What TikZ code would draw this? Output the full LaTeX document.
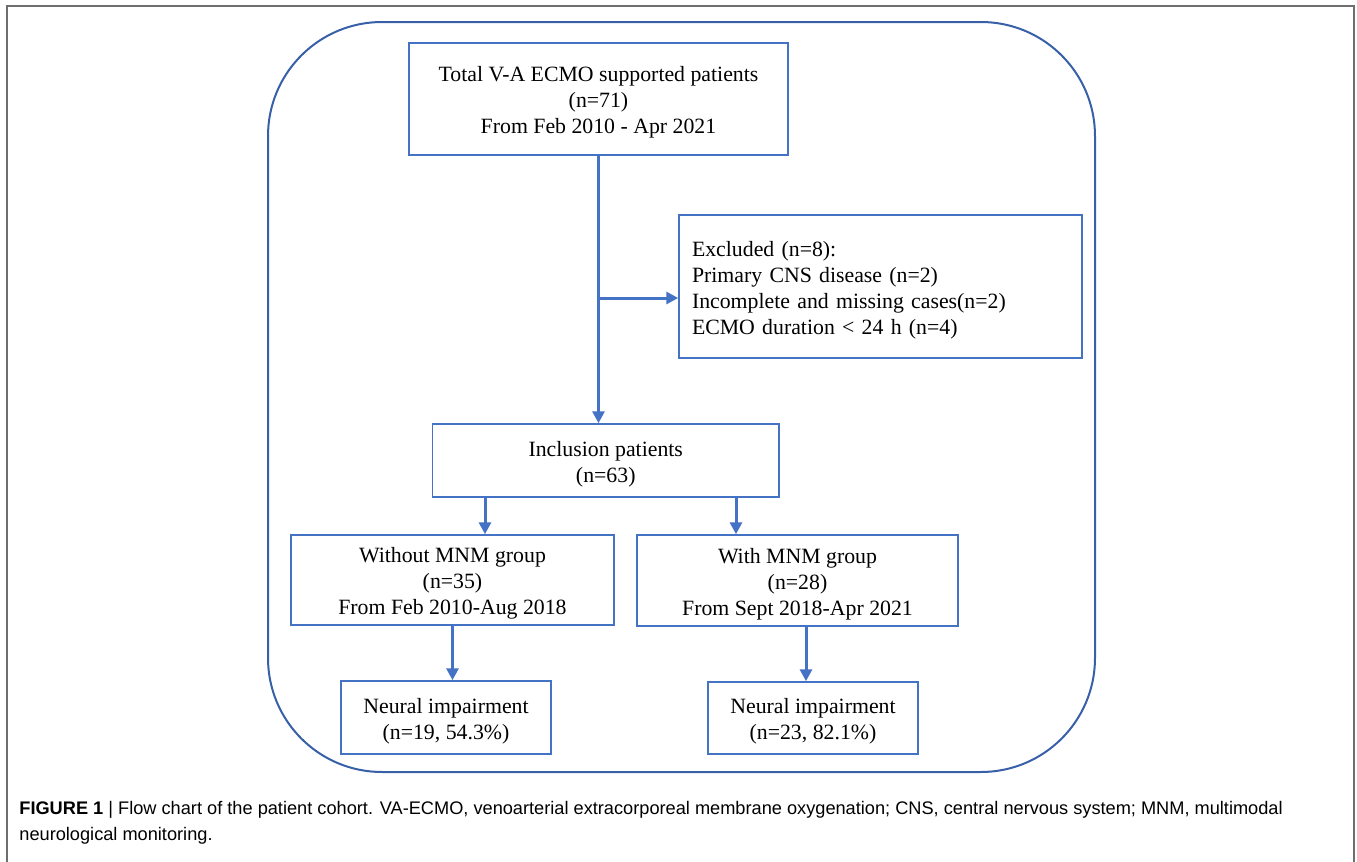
\documentclass[tikz,border=0pt]{standalone}
\usepackage{fontspec}
\setmainfont{Liberation Serif}
\newfontfamily\capfont{Liberation Sans}
\usetikzlibrary{arrows.meta,positioning}
\definecolor{fcblue}{RGB}{68,114,196}
\definecolor{fcframe}{RGB}{55,96,168}
\definecolor{fcgray}{RGB}{110,110,110}
\newcommand{\toplift}{\rule{0pt}{11pt}}

\begin{document}
\begin{tikzpicture}[x=0.5pt,y=-0.5pt,>={Triangle[length=6pt,width=6pt]},
    font=\fontsize{10.9}{13}\selectfont,
    box/.style={draw=fcblue,line width=0.75pt,align=center,inner sep=0pt},
    flow/.style={->,draw=fcblue,fill=fcblue,line width=1.5pt}]
  \useasboundingbox (0,0) rectangle (1357,862);
  % page frame and rounded panel
  \draw[fcgray,line width=0.8pt] (7,862) -- (7,6) -- (1354,6) -- (1354,862);
  \draw[fcframe,line width=1pt,rounded corners=57pt] (268,22) rectangle (1095,772);

  \node[box,minimum width=189.5pt,minimum height=56pt] (total) at (598.5,99)
    {\toplift Total V-A ECMO supported patients\\(n=71)\\From Feb 2010 - Apr 2021};
  \node[box,align=left,text width=188.5pt,inner xsep=6.5pt,minimum height=71.5pt] (excl) at (880.5,286.5)
    {\toplift Excluded (n=8):\\Primary CNS disease (n=2)\\Incomplete and missing cases(n=2)\\ECMO duration < 24 h (n=4)};
  \node[box,minimum width=173.25pt,minimum height=36.5pt] (incl) at (605.75,460.5)
    {\toplift Inclusion patients\\(n=63)};
  \node[box,minimum width=161.5pt,minimum height=45pt] (nomnm) at (452.5,580)
    {\toplift Without MNM group\\(n=35)\\From Feb 2010-Aug 2018};
  \node[box,minimum width=160.5pt,minimum height=45.5pt] (mnm) at (797.5,580.5)
    {\toplift With MNM group\\(n=28)\\From Sept 2018-Apr 2021};
  \node[box,minimum width=105pt,minimum height=36.5pt] (imp1) at (446,717.5)
    {\toplift Neural impairment\\(n=19, 54.3\%)};
  \node[box,minimum width=105pt,minimum height=36pt] (imp2) at (813,718)
    {\toplift Neural impairment\\(n=23, 82.1\%)};

  % connectors
  \coordinate (exin) at ([yshift=-5.75pt]excl.west);
  \coordinate (nomnmin) at ([xshift=-60.375pt]incl.south);
  \coordinate (mnmin) at ([xshift=65.125pt]incl.south);
  \coordinate (imp2in) at ([xshift=4.25pt]mnm.south);
  \draw[flow] (total.south) -- (total.south |- incl.north);
  \draw[flow] (exin -| total.south) -- (exin);
  \draw[flow] (nomnmin) -- (nomnmin |- nomnm.north);
  \draw[flow] (mnmin) -- (mnmin |- mnm.north);
  \draw[flow] (nomnm.south) -- (nomnm.south |- imp1.north);
  \draw[flow] (imp2in) -- (imp2in |- imp2.north);

  \node[anchor=base west,inner sep=0pt,align=left,font=\capfont\fontsize{9.1}{13}\selectfont] (caption) at (19,840)
    {\textbf{FIGURE 1} | Flow chart of the patient cohort. VA-ECMO, venoarterial extracorporeal membrane oxygenation; CNS, central nervous system; MNM, multimodal\\neurological monitoring.};
\end{tikzpicture}
\end{document}
